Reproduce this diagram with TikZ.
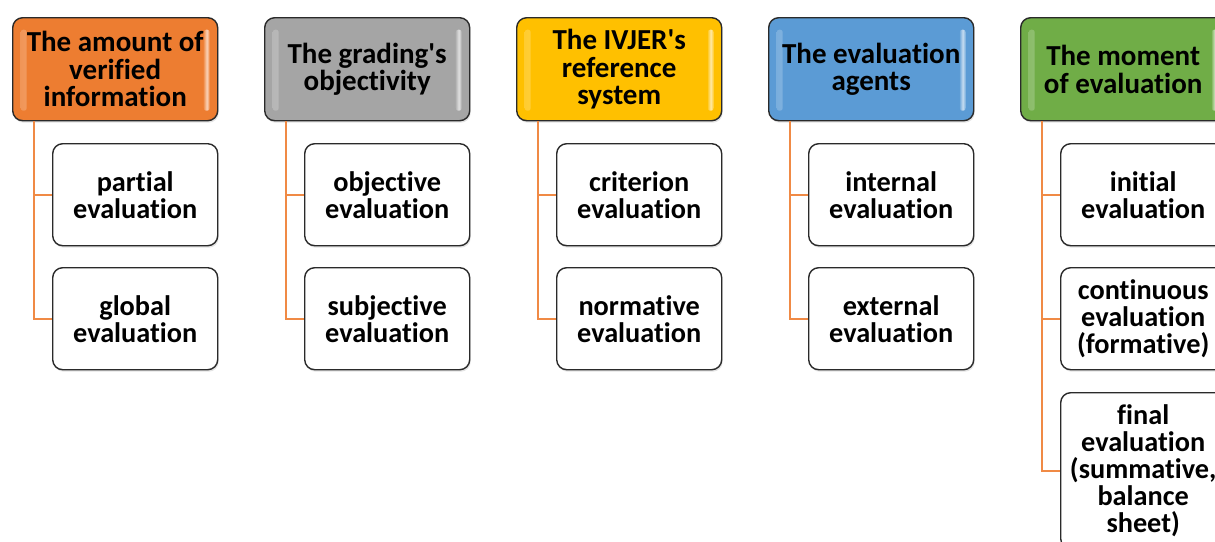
\documentclass[tikz,border=0pt]{standalone}
\usepackage{fontspec}
\newfontfamily\boxfont{Carlito}[Ligatures=NoCommon]
\usetikzlibrary{shadows}

\definecolor{cOrange}{HTML}{ED7D31}
\definecolor{cGray}{HTML}{A5A5A5}
\definecolor{cYellow}{HTML}{FFC000}
\definecolor{cBlue}{HTML}{5B9BD5}
\definecolor{cGreen}{HTML}{70AD47}
\definecolor{cEdge}{HTML}{2A2A2A}
\definecolor{cLink}{HTML}{F08A45}

\tikzset{
  gloss/.style={rounded corners=2.5pt, left color=#1!85!white, right color=#1!85!white,
    middle color=#1!35!white},
  boxbase/.style={draw=cEdge, line width=1.4pt, rounded corners=10pt, anchor=north west,
    align=center, inner sep=0pt, text=black,
    drop shadow={opacity=0.22, shadow xshift=1pt, shadow yshift=-2pt}},
  headbox/.style={boxbase, fill=#1, minimum width=205pt, minimum height=103pt,
    font=\boxfont\bfseries\fontsize{29}{27.5}\selectfont,
    path picture={
      \shade[gloss=#1] ([xshift=8pt,yshift=-12pt]path picture bounding box.north west)
        rectangle ([xshift=14pt,yshift=10pt]path picture bounding box.south west);
      \shade[gloss=#1] ([xshift=-14pt,yshift=-12pt]path picture bounding box.north east)
        rectangle ([xshift=-8pt,yshift=10pt]path picture bounding box.south east);
    }},
  itembox/.style={boxbase, fill=white, minimum width=165pt, minimum height=102pt,
    font=\boxfont\bfseries\fontsize{28.3}{27}\selectfont},
  link/.style={draw=cLink, line width=2.3pt}
}

\begin{document}
\begin{tikzpicture}[x=1pt,y=-1pt]
\useasboundingbox (0,0) rectangle (1215,541);
\clip (0,0) rectangle (1215,541);
\fill[white] (0,0) rectangle (1215,541);

% category headers
\node[headbox=cOrange] (h1) at (12,17)   {The amount of\\verified\\information};
\node[headbox=cGray]   (h2) at (264,17)  {The grading's\\objectivity};
\node[headbox=cYellow] (h3) at (516,17)  {The IVJER's\\reference\\system};
\node[headbox=cBlue]   (h4) at (768,17)  {The evaluation\\agents};
\node[headbox=cGreen]  (h5) at (1020,17) {The moment\\of evaluation};

% sub-items
\node[itembox] (a1) at (52,143)  {partial\\evaluation};
\node[itembox] (a2) at (52,267)  {global\\evaluation};
\node[itembox] (b1) at (304,143) {objective\\evaluation};
\node[itembox] (b2) at (304,267) {subjective\\evaluation};
\node[itembox] (c1) at (556,143) {criterion\\evaluation};
\node[itembox] (c2) at (556,267) {normative\\evaluation};
\node[itembox] (d1) at (808,143) {internal\\evaluation};
\node[itembox] (d2) at (808,267) {external\\evaluation};
\node[itembox] (e1) at (1060,143) {initial\\evaluation};
\node[itembox] (e2) at (1060,267) {continuous\\evaluation\\(formative)};
\node[itembox, minimum height=156pt] (e3) at (1060,392)
  {final\\evaluation\\(summative,\\balance\\sheet)};

% connectors
\foreach \h/\k in {h1/a1, h1/a2, h2/b1, h2/b2, h3/c1, h3/c2, h4/d1, h4/d2, h5/e1, h5/e2, h5/e3}
  \draw[link] ([xshift=22pt]\h.south west) |- (\k.west);
\end{tikzpicture}
\end{document}
